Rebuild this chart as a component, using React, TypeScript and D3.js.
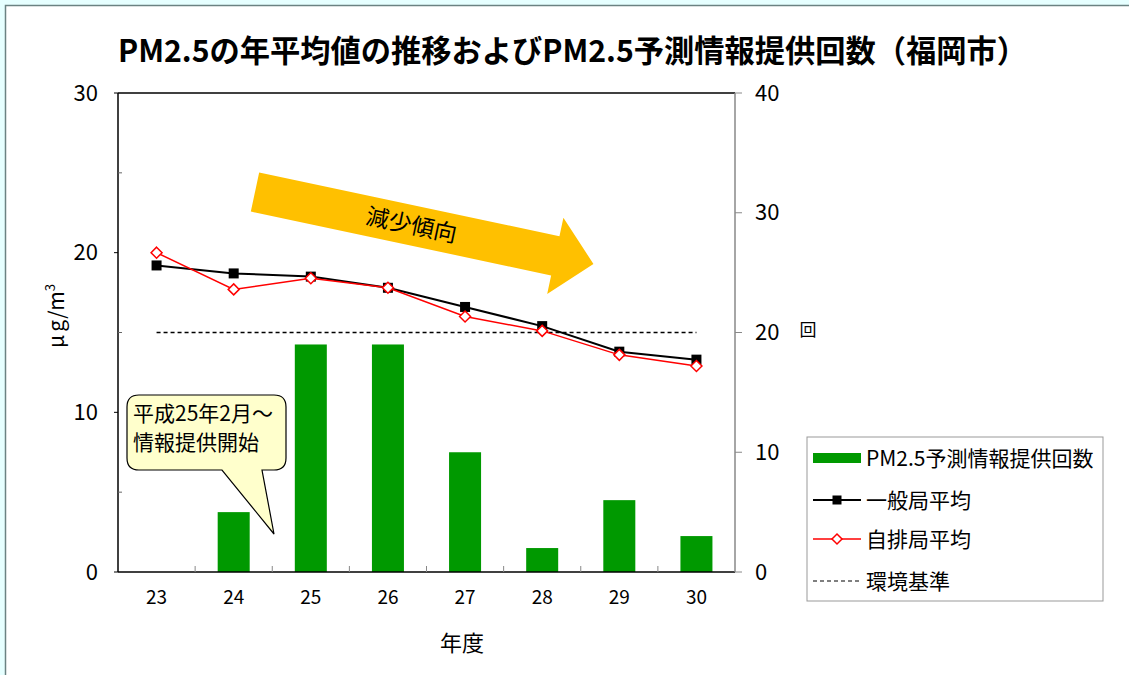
import React from "react";
import * as d3 from "d3";

// Fiscal years (Heisei)
const categories = ["23", "24", "25", "26", "27", "28", "29", "30"];
// PM2.5 forecast information issuances per year (right axis, 回)
const forecastCounts = [0, 5, 19, 19, 10, 2, 6, 3];
// Annual mean PM2.5, general monitoring stations (μg/m³)
const generalAvg = [19.2, 18.7, 18.5, 17.8, 16.6, 15.4, 13.8, 13.3];
// Annual mean PM2.5, roadside monitoring stations (μg/m³)
const roadsideAvg = [20.0, 17.7, 18.4, 17.8, 16.0, 15.1, 13.6, 12.9];
// Environmental quality standard (μg/m³)
const standardValue = 15;
const standardSeries = categories.map(() => standardValue);

const leftTicks = [0, 10, 20, 30];
const leftMinorTicks = [5, 15, 25];
const rightTicks = [0, 10, 20, 30, 40];

const titleText = "PM2.5の年平均値の推移およびPM2.5予測情報提供回数（福岡市）";
const legendLabels = ["PM2.5予測情報提供回数", "一般局平均", "自排局平均", "環境基準"];

const FONT = "'Noto Sans CJK JP', 'Noto Sans', sans-serif";

export default function App() {
  const W = 1129;
  const H = 675;
  const left = 118;
  const right = 735;
  const top = 93;
  const bottom = 572;

  const x = d3.scaleBand<string>().domain(categories).range([left, right]).padding(0);
  const yL = d3.scaleLinear().domain([0, 30]).range([bottom, top]);
  const yR = d3.scaleLinear().domain([0, 40]).range([bottom, top]);
  const cx = (c: string) => (x(c) as number) + x.bandwidth() / 2;
  const barW = x.bandwidth() * 0.415;

  const line = d3
    .line<number>()
    .x((_, i) => cx(categories[i]))
    .y((d) => yL(d));

  // Callout bubble with a tail pointing at the first bar
  const bx0 = 127, bx1 = 286, by0 = 395, by1 = 470, r = 12;
  const tailA = 222, tailB = 262, tipX = 274, tipY = 534;
  const bubble = [
    `M${bx0 + r},${by0}`,
    `H${bx1 - r}`,
    `Q${bx1},${by0} ${bx1},${by0 + r}`,
    `V${by1 - r}`,
    `Q${bx1},${by1} ${bx1 - r},${by1}`,
    `H${tailB}`,
    `L${tipX},${tipY}`,
    `L${tailA},${by1}`,
    `H${bx0 + r}`,
    `Q${bx0},${by1} ${bx0},${by1 - r}`,
    `V${by0 + r}`,
    `Q${bx0},${by0} ${bx0 + r},${by0}`,
    "Z",
  ].join(" ");

  // Block arrow for the decreasing trend, drawn along its own axis then rotated
  const arrLen = 346, shaftHalf = 20, headHalf = 39, headLen = 39;
  const arrow = [
    [0, -shaftHalf],
    [arrLen - headLen, -shaftHalf],
    [arrLen - headLen, -headHalf],
    [arrLen, 0],
    [arrLen - headLen, headHalf],
    [arrLen - headLen, shaftHalf],
    [0, shaftHalf],
  ]
    .map((p, i) => `${i === 0 ? "M" : "L"}${p[0]},${p[1]}`)
    .join(" ") + " Z";

  const diamond = (px: number, py: number, s: number) =>
    `M${px},${py - s} L${px + s},${py} L${px},${py + s} L${px - s},${py} Z`;

  const legX0 = 813, legX1 = 861, legMid = 837, legTextX = 866;
  const legY = [458, 500, 539, 581];

  return (
    <svg
      width={W}
      height={H}
      style={{ position: "absolute", left: 0, top: 0, fontFamily: FONT }}
    >
      {/* page frame */}
      <rect x={0} y={0} width={W} height={H} fill="#e6ffff" />
      <rect x={5} y={5} width={W - 5} height={H - 5} fill="#ffffff" />
      <path d={`M5.5,${H} V5.5 H${W}`} fill="none" stroke="#6b8282" strokeWidth={1.5} />

      {/* title */}
      <text
        x={118}
        y={62}
        fontSize={31}
        fontWeight="bold"
        textLength={909}
        lengthAdjust="spacingAndGlyphs"
        fill="#000"
      >
        {titleText}
      </text>

      {/* bars */}
      {categories.map((c, i) => (
        <rect
          key={c}
          x={cx(c) - barW / 2}
          y={yR(forecastCounts[i])}
          width={barW}
          height={bottom - yR(forecastCounts[i])}
          fill="#009900"
        />
      ))}

      {/* trend arrow */}
      <g transform="translate(255,192) rotate(12)">
        <path d={arrow} fill="#ffc000" />
        <text x={160} y={8} fontSize={23} textAnchor="middle" fill="#000">
          減少傾向
        </text>
      </g>

      {/* environmental standard */}
      <path
        d={line(standardSeries) as string}
        fill="none"
        stroke="#000"
        strokeWidth={1.5}
        strokeDasharray="4,3"
      />

      {/* general stations */}
      <path d={line(generalAvg) as string} fill="none" stroke="#000" strokeWidth={2} />
      {generalAvg.map((v, i) => (
        <rect
          key={"g" + i}
          x={cx(categories[i]) - 5}
          y={yL(v) - 5}
          width={10}
          height={10}
          fill="#000"
        />
      ))}

      {/* roadside stations */}
      <path d={line(roadsideAvg) as string} fill="none" stroke="#ff0000" strokeWidth={1.5} />
      {roadsideAvg.map((v, i) => (
        <path
          key={"r" + i}
          d={diamond(cx(categories[i]), yL(v), 5.5)}
          fill="#fff"
          stroke="#ff0000"
          strokeWidth={1.5}
        />
      ))}

      {/* callout */}
      <path d={bubble} fill="#ffffcc" stroke="#000" strokeWidth={1.2} />
      <text x={133} y={421} fontSize={21} fill="#000">平成25年2月～</text>
      <text x={133} y={450} fontSize={21} fill="#000">情報提供開始</text>

      {/* plot frame */}
      <line x1={left} x2={right} y1={top} y2={top} stroke="#000" strokeWidth={1.5} />
      <line x1={left} x2={left} y1={top} y2={bottom} stroke="#000" strokeWidth={1.5} />
      <line x1={left} x2={right} y1={bottom} y2={bottom} stroke="#000" strokeWidth={1.5} />
      <line x1={right} x2={right} y1={top} y2={bottom} stroke="#888" strokeWidth={1.5} />

      {/* x category boundary ticks */}
      {categories.slice(1).map((c) => (
        <line
          key={"xt" + c}
          x1={x(c) as number}
          x2={x(c) as number}
          y1={bottom}
          y2={bottom - 6}
          stroke="#888"
          strokeWidth={1}
        />
      ))}

      {/* left axis */}
      {leftTicks.map((t) => (
        <g key={"l" + t}>
          <line x1={left - 4} x2={left} y1={yL(t)} y2={yL(t)} stroke="#000" strokeWidth={1} />
          <text x={98} y={yL(t) + 7.5} fontSize={22} textAnchor="end" fill="#000">
            {t}
          </text>
        </g>
      ))}
      {leftMinorTicks.map((t) => (
        <line key={"lm" + t} x1={left} x2={left + 4} y1={yL(t)} y2={yL(t)} stroke="#666" strokeWidth={1} />
      ))}

      {/* right axis */}
      {rightTicks.map((t) => (
        <g key={"r" + t}>
          <line x1={right} x2={right + 7} y1={yR(t)} y2={yR(t)} stroke="#888" strokeWidth={1} />
          <text x={755} y={yR(t) + 7.5} fontSize={22} textAnchor="start" fill="#000">
            {t}
          </text>
        </g>
      ))}

      {/* x labels */}
      {categories.map((c) => (
        <text key={"xl" + c} x={cx(c)} y={604} fontSize={19} textAnchor="middle" fill="#000">
          {c}
        </text>
      ))}

      {/* axis titles */}
      <text x={462} y={651} fontSize={22} textAnchor="middle" fill="#000">年度</text>
      <text
        transform="translate(64,316) rotate(-90)"
        fontSize={21}
        textAnchor="middle"
        fill="#000"
      >
        <tspan>μ</tspan>
        <tspan dx={3}>g/m</tspan>
        <tspan fontSize={13} dy={-9}>3</tspan>
      </text>
      <text x={808} y={336} fontSize={17} textAnchor="middle" fill="#000">回</text>

      {/* legend */}
      <rect x={807} y={437} width={296} height={164} fill="#fff" stroke="#999" strokeWidth={1} />
      <rect x={legX0} y={legY[0] - 5} width={legX1 - legX0} height={10} fill="#009900" />
      <line x1={legX0} x2={legX1} y1={legY[1]} y2={legY[1]} stroke="#000" strokeWidth={2} />
      <rect x={legMid - 4.5} y={legY[1] - 4.5} width={9} height={9} fill="#000" />
      <line x1={legX0} x2={legX1} y1={legY[2]} y2={legY[2]} stroke="#ff0000" strokeWidth={1.5} />
      <path d={diamond(legMid, legY[2], 5)} fill="#fff" stroke="#ff0000" strokeWidth={1.5} />
      <line
        x1={legX0}
        x2={legX1}
        y1={legY[3]}
        y2={legY[3]}
        stroke="#000"
        strokeWidth={1.2}
        strokeDasharray="4,3"
      />
      {legendLabels.map((lab, i) => (
        <text key={lab} x={legTextX} y={legY[i] + 7.5} fontSize={21} fill="#000">
          {lab}
        </text>
      ))}
    </svg>
  );
}
